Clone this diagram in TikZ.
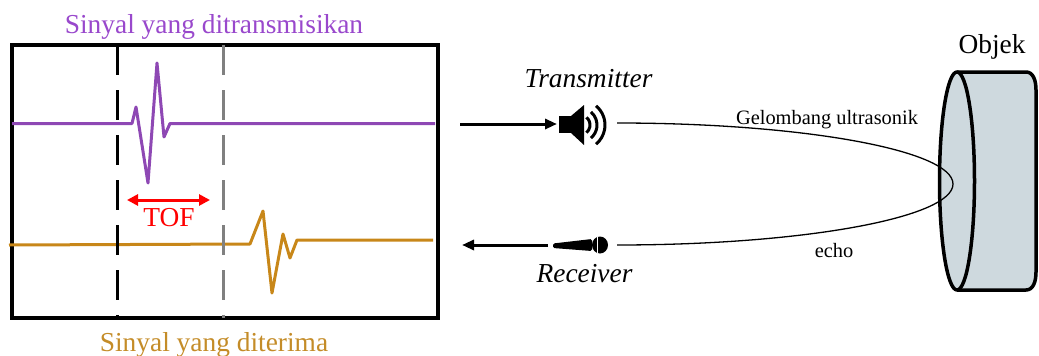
\documentclass[tikz,border=0pt]{standalone}
\usepackage{fontspec}
\setmainfont{Liberation Serif}
\usetikzlibrary{arrows.meta}

\definecolor{txline}{RGB}{142,72,180}
\definecolor{txtext}{RGB}{153,72,204}
\definecolor{rxline}{RGB}{200,135,25}
\definecolor{rxtext}{RGB}{196,140,40}
\definecolor{marker}{RGB}{128,128,128}
\definecolor{objfill}{RGB}{206,217,222}

\tikzset{
  big/.style={font=\fontsize{27.4}{30}\selectfont, inner sep=0pt, anchor=base},
  small/.style={font=\fontsize{20.4}{23}\selectfont, inner sep=0pt, anchor=base},
  wave/.style={line width=3pt, line join=round},
  timemark/.style={line width=3pt, dash pattern=on 30pt off 15pt},
  flow/.style={line width=3pt, -{Triangle[length=12pt,width=10pt]}},
  tofarrow/.style={red, line width=3pt, {Triangle[length=11pt,width=11pt]}-{Triangle[length=11pt,width=11pt]}},
  cylline/.style={line width=3.5pt, line join=round},
  beam/.style={line width=1.3pt}
}

\begin{document}
\begin{tikzpicture}[x=1pt,y=-1pt]
\useasboundingbox (0,0) rectangle (1039,356);

% oscilloscope frame
\draw[line width=3.5pt] (12,45) rectangle (438,318);

% transmitted pulse
\draw[wave, txline] (12,123.5) -- (132,123.5) -- (136,107) -- (148,183) -- (157,63)
  -- (164,137) -- (170,123.5) -- (435,123.5);
% received echo
\draw[wave, rxline] (9,245) -- (250,244) -- (263,211) -- (272,293) -- (283,234)
  -- (290,258) -- (297,240) -- (433,240);

% time markers
\draw[timemark, black] (117,45) -- (117,318);
\draw[timemark, marker] (223,45) -- (223,318);

% time of flight
\coordinate (tofL) at (127,200);
\coordinate (tofR) at (210,200);
\draw[tofarrow] (tofL) -- (tofR);
\node[big, red] (tof) at (169,226) {TOF};

\node[big, txtext] (txlabel) at (214,34) {Sinyal yang ditransmisikan};
\node[big, rxtext] (rxlabel) at (214,351) {Sinyal yang diterima};

% speaker (transmitter)
\fill (559,116) rectangle (572,133);
\fill (571,116) -- (584,105) -- (584,145) -- (571,133) -- cycle;
\foreach \r in {10,17,25}
  \draw[line width=3pt] (580,125) ++(-50:\r) arc[start angle=-50, end angle=50, radius=\r];
\coordinate (txin) at (460,124);
\coordinate (spk) at (557,124);
\draw[flow] (txin) -- (spk);
\node[big, font=\fontsize{27.4}{30}\selectfont\itshape] (txname) at (588.5,87) {Transmitter};

% microphone (receiver)
\fill[rounded corners=1.5pt] (553,243.5) -- (592,239) -- (592,251) -- (553,248) -- cycle;
\fill (600,245) ellipse [x radius=8, y radius=8.5];
\draw[white, line width=0.8pt] (597.5,237) -- (597.5,253);
\coordinate (mic) at (548,245);
\coordinate (rxout) at (462,245);
\draw[flow] (mic) -- (rxout);
\node[big, font=\fontsize{27.4}{30}\selectfont\itshape] (rxname) at (584.5,282) {Receiver};

% object
\fill[objfill] (957,72) -- (1026,72) .. controls (1033,72) and (1036,80) .. (1036,90)
  -- (1036,272) .. controls (1036,282) and (1033,290) .. (1026,290) -- (957,290) -- cycle;
\draw[cylline] (957,72) -- (1026,72) .. controls (1033,72) and (1036,80) .. (1036,90)
  -- (1036,272) .. controls (1036,282) and (1033,290) .. (1026,290) -- (957,290);
\draw[cylline, fill=objfill] (957,181) ellipse [x radius=17.5, y radius=109];
\node[big] (obj) at (992,53) {Objek};

% ultrasonic path and echo
\coordinate (beamout) at (617,123);
\coordinate (hit) at (953,184);
\coordinate (beamin) at (617,245);
\draw[beam] (beamout) .. controls (802.6,123) and (953,150.3) .. (hit)
  .. controls (953,217.7) and (802.6,245) .. (beamin);
\node[small] (wavelabel) at (827,124) {Gelombang ultrasonik};
\node[small] (echolabel) at (834,257) {echo};
\end{tikzpicture}
\end{document}
